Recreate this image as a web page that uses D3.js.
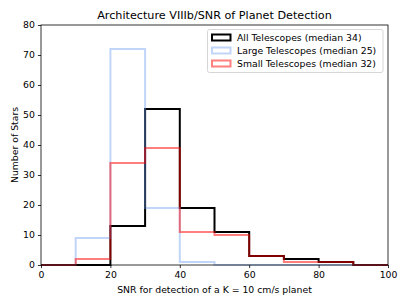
<!DOCTYPE html>
<html>
<head>
<meta charset="utf-8">
<script src="https://cdn.jsdelivr.net/npm/d3@7"></script>
<style>
  html, body { margin: 0; padding: 0; background: #fff; }
  svg { display: block; font-family: "DejaVu Sans", sans-serif; }
</style>
</head>
<body>
<svg id="chart" width="407" height="305"></svg>
<script>
const binEdges = [0, 10, 20, 30, 40, 50, 60, 70, 80, 90, 100];
const allCounts   = [0, 0, 13, 52, 19, 11, 3, 2, 1, 0];
const largeCounts = [0, 9, 72, 19, 1, 0, 0, 0, 0, 0];
const smallCounts = [0, 2, 34, 39, 11, 10, 3, 1, 1, 0];
const seriesNames = ["All Telescopes (median 34)", "Large Telescopes (median 25)", "Small Telescopes (median 32)"];
const xTicks = [0, 20, 40, 60, 80, 100];
const yTicks = [0, 10, 20, 30, 40, 50, 60, 70, 80];

const series = [
  { name: seriesNames[0], counts: allCounts,   color: "#000000", opacity: 1,   width: 2 },
  { name: seriesNames[1], counts: largeCounts, color: "#6495ED", opacity: 0.4, width: 2 },
  { name: seriesNames[2], counts: smallCounts, color: "#ff0000", opacity: 0.5, width: 2 }
];

const FS = 9.3;
const svg = d3.select("#chart");
const m = { left: 41, right: 388, top: 25, bottom: 265 };
const x = d3.scaleLinear().domain([0, 100]).range([m.left, m.right]);
const y = d3.scaleLinear().domain([0, 80]).range([m.bottom, m.top]);

function stepPoints(counts) {
  const pts = [[binEdges[0], 0]];
  counts.forEach((c, i) => {
    pts.push([binEdges[i], c]);
    pts.push([binEdges[i + 1], c]);
  });
  pts.push([binEdges[binEdges.length - 1], 0]);
  return pts;
}
const line = d3.line().x(d => x(d[0])).y(d => y(d[1]));

const plot = svg.append("g");
series.forEach(s => {
  plot.append("path")
    .attr("d", line(stepPoints(s.counts)))
    .attr("fill", "none")
    .attr("stroke", s.color)
    .attr("stroke-opacity", s.opacity)
    .attr("stroke-width", s.width)
    .attr("stroke-linejoin", "miter");
});

const xAxis = d3.axisBottom(x).tickValues(xTicks).tickSize(3.1).tickPadding(3.1);
const yAxis = d3.axisLeft(y).tickValues(yTicks).tickSize(3.1).tickPadding(3.1);
const gx = svg.append("g").attr("transform", `translate(0,${m.bottom})`).call(xAxis);
const gy = svg.append("g").attr("transform", `translate(${m.left},0)`).call(yAxis);
[gx, gy].forEach(g => {
  g.select(".domain").remove();
  g.selectAll("text").attr("font-size", FS).attr("font-family", "DejaVu Sans").attr("fill", "#000");
  g.selectAll("line").attr("stroke", "#000").attr("stroke-width", 0.8);
});

svg.append("rect")
  .attr("x", m.left).attr("y", m.top)
  .attr("width", m.right - m.left).attr("height", m.bottom - m.top)
  .attr("fill", "none").attr("stroke", "#000").attr("stroke-width", 0.8);

svg.append("text").attr("x", (m.left + m.right) / 2).attr("y", 19)
  .attr("text-anchor", "middle").attr("font-size", 11.2).text("Architecture VIIIb/SNR of Planet Detection");
svg.append("text").attr("x", (m.left + m.right) / 2).attr("y", 293)
  .attr("text-anchor", "middle").attr("font-size", FS).text("SNR for detection of a K = 10 cm/s planet");
svg.append("text").attr("transform", `translate(18,${(m.top + m.bottom) / 2}) rotate(-90)`)
  .attr("text-anchor", "middle").attr("font-size", FS).text("Number of Stars");

const lg = svg.append("g");
lg.append("rect").attr("x", 207.5).attr("y", 29.5).attr("width", 175.5).attr("height", 43)
  .attr("rx", 2).attr("fill", "#fff").attr("fill-opacity", 0.8)
  .attr("stroke", "#cccccc").attr("stroke-width", 0.8);
series.forEach((s, i) => {
  const yy = 37.5 + i * 13;
  lg.append("rect").attr("x", 212).attr("y", yy - 3).attr("width", 18.5).attr("height", 6)
    .attr("fill", "none").attr("stroke", s.color).attr("stroke-opacity", s.opacity).attr("stroke-width", s.width);
  lg.append("text").attr("x", 237).attr("y", yy + 3.4).attr("font-size", FS).text(s.name);
});
</script>
</body>
</html>
